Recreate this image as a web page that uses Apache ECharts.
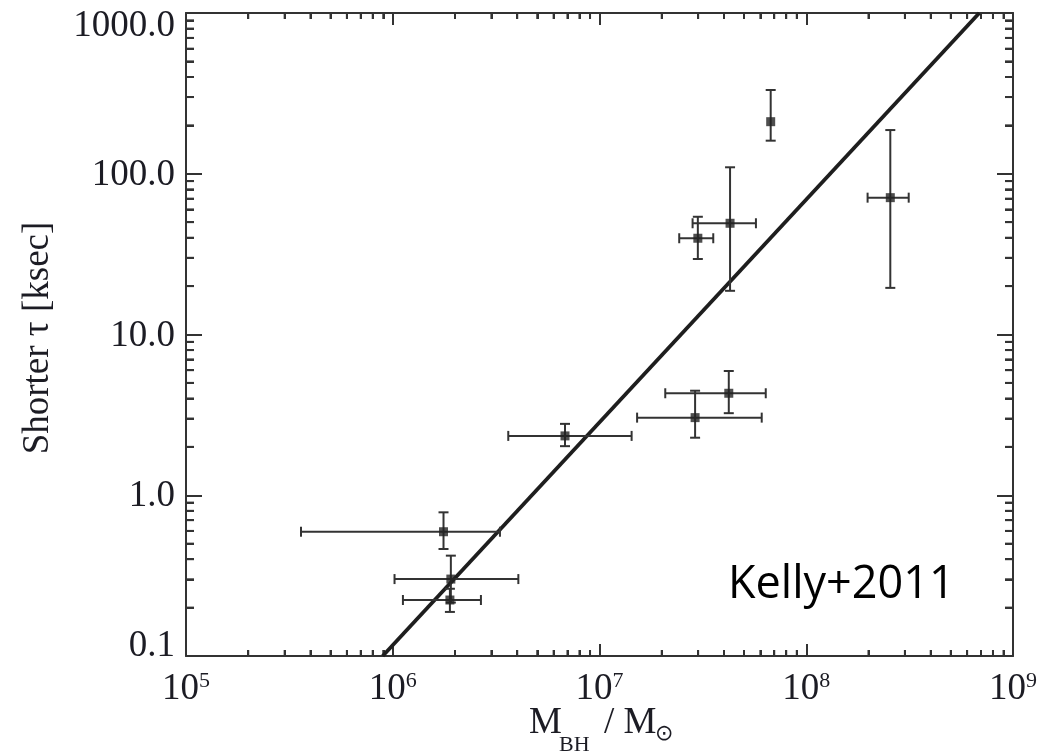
<!DOCTYPE html>
<html>
<head>
<meta charset="utf-8">
<script src="https://cdn.jsdelivr.net/npm/echarts@6/dist/echarts.min.js"></script>
<style>
html,body{margin:0;padding:0;background:#fff;}
#chart{width:1042px;height:752px;}
</style>
</head>
<body>
<div id="chart"></div>
<script>
// ---- data (Kelly+2011) ----
const massBH  = [1.76e6, 1.91e6, 1.89e6, 6.81e6, 2.90e7, 4.22e7, 2.99e7, 4.28e7, 6.73e7, 2.55e8];
const tauShort = [0.593, 0.301, 0.223, 2.34, 3.04, 4.31, 39.7, 49.2, 210.8, 71.0];
const massLo  = [3.6e5, 1.02e6, 1.12e6, 3.62e6, 1.52e7, 2.08e7, 2.43e7, 2.82e7, null, 1.98e8];
const massHi  = [3.30e6, 4.05e6, 2.67e6, 1.43e7, 6.09e7, 6.37e7, 3.55e7, 5.71e7, null, 3.13e8];
const tauLo   = [0.463, 0.215, 0.188, 2.02, 2.28, 3.24, 29.5, 18.7, 160.6, 19.5];
const tauHi   = [0.783, 0.421, 0.262, 2.78, 4.47, 5.93, 54.0, 109.7, 332, 187];
// best-fit relation end points
const fitMass = [8.94e5, 6.87e8];
const fitTau  = [0.1, 1000];
// axis ticks
const xTicks = [1e5, 1e6, 1e7, 1e8, 1e9];
const yTicks = [0.1, 1, 10, 100, 1000];
const yTickLabels = ['0.1', '1.0', '10.0', '100.0', '1000.0'];

const SERIF = '"Liberation Serif", "Times New Roman", serif';
const INK = '#1c1c24';

const xMinor = [], yMinor = [];
for (let e = 5; e < 9; e++) for (let m = 2; m <= 9; m++) xMinor.push(m * Math.pow(10, e));
for (let e = -1; e < 3; e++) for (let m = 2; m <= 9; m++) yMinor.push(m * Math.pow(10, e));

const errData = massBH.map((x, i) => [x, tauShort[i],
  massLo[i] == null ? x : massLo[i], massHi[i] == null ? x : massHi[i], tauLo[i], tauHi[i]]);
const pts = massBH.map((x, i) => [x, tauShort[i]]);
const fitData = fitMass.map((x, i) => [x, fitTau[i]]);

const chart = echarts.init(document.getElementById('chart'));

function xLabel(v) {
  const e = Math.round(Math.log10(v));
  return '{b|10}{s|' + e + '}';
}
function yLabel(v) {
  const idx = yTicks.findIndex(t => Math.abs(Math.log10(t) - Math.log10(v)) < 1e-6);
  const s = idx >= 0 ? yTickLabels[idx] : String(v);
  if (idx === yTicks.length - 1) return '{t|' + s + '}';
  if (idx === 0) return '{bt|' + s + '}';
  return '{n|' + s + '}';
}

function xAxisDef(pos, showLabel) {
  return {
    type: 'log', logBase: 10, min: xTicks[0], max: xTicks[xTicks.length - 1], splitNumber: 4,
    position: pos,
    axisLine: {show: true, lineStyle: {color: '#333', width: 2}},
    axisTick: {show: true, inside: true, length: 12, lineStyle: {color: '#333', width: 2}},
    minorTick: {show: true, splitNumber: 9, length: 6, lineStyle: {color: '#333', width: 2}},
    splitLine: {show: false},
    axisLabel: showLabel ? {
      show: true, margin: 14, formatter: xLabel, color: INK,
      rich: {
        b: {fontFamily: SERIF, fontSize: 37, lineHeight: 38, color: INK},
        s: {fontFamily: SERIF, fontSize: 22, lineHeight: 22, verticalAlign: 'top', color: INK}
      }
    } : {show: false}
  };
}
function yAxisDef(pos, showLabel) {
  return {
    type: 'log', logBase: 10, min: yTicks[0], max: yTicks[yTicks.length - 1], splitNumber: 4,
    position: pos,
    axisLine: {show: true, lineStyle: {color: '#333', width: 2}},
    axisTick: {show: true, inside: true, length: 16, lineStyle: {color: '#333', width: 2}},
    minorTick: {show: true, splitNumber: 9, length: 8, lineStyle: {color: '#333', width: 2}},
    splitLine: {show: false},
    axisLabel: showLabel ? {
      show: true, margin: 11, formatter: yLabel, color: INK,
      rich: {
        n: {fontFamily: SERIF, fontSize: 37, color: INK, padding: [3, 0, 0, 0]},
        t: {fontFamily: SERIF, fontSize: 37, color: INK, padding: [26, 0, 0, 0]},
        bt: {fontFamily: SERIF, fontSize: 37, color: INK, padding: [0, 0, 20, 0]}
      }
    } : {show: false}
  };
}

chart.setOption({
  animation: false,
  grid: {left: 186, top: 13, width: 827, height: 643},
  xAxis: [xAxisDef('bottom', true), xAxisDef('top', false)],
  yAxis: [yAxisDef('left', true), yAxisDef('right', false)],
  series: [
    {
      type: 'line', name: 'fit', data: fitData, symbol: 'none', clip: true,
      lineStyle: {color: '#1e1e1e', width: 3.8}, z: 3
    },
    {
      type: 'custom', name: 'errors', clip: false, z: 4,
      data: errData,
      encode: {x: 0, y: 1},
      renderItem: function (params, api) {
        const x = api.value(0), y = api.value(1);
        const xl = api.value(2), xh = api.value(3), yl = api.value(4), yh = api.value(5);
        const ch = [];
        const cap = 5;
        function seg(x1, y1, x2, y2) {
          ch.push({type: 'line', shape: {x1: x1, y1: y1, x2: x2, y2: y2}, style: {stroke: '#333', lineWidth: 2}});
        }
        if (xl !== xh) {
          const a = api.coord([xl, y]), b = api.coord([xh, y]);
          seg(a[0], a[1], b[0], b[1]);
          seg(a[0], a[1] - cap, a[0], a[1] + cap);
          seg(b[0], b[1] - cap, b[0], b[1] + cap);
        }
        if (yl !== yh) {
          const a = api.coord([x, yl]), b = api.coord([x, yh]);
          seg(a[0], a[1], b[0], b[1]);
          seg(a[0] - cap, a[1], a[0] + cap, a[1]);
          seg(b[0] - cap, b[1], b[0] + cap, b[1]);
        }
        return {type: 'group', children: ch};
      }
    },
    {
      type: 'scatter', name: 'sources', data: pts, symbol: 'rect', symbolSize: 9,
      itemStyle: {color: '#222'}, z: 5
    }
  ]
});

// texts + mirrored minor ticks (positions through the axes' scales)
const g = [
  {type: 'text', x: 38, y: 338, rotation: Math.PI / 2,
    style: {text: 'Shorter τ [ksec]', font: '37px ' + SERIF, fill: INK, align: 'center', verticalAlign: 'middle'}},
  {type: 'text', x: 529, y: 723, style: {text: 'M', font: '37px ' + SERIF, fill: INK, align: 'left', verticalAlign: 'middle'}},
  {type: 'text', x: 559, y: 745, style: {text: 'BH', font: '22px ' + SERIF, fill: INK, align: 'left', verticalAlign: 'middle'}},
  {type: 'text', x: 604, y: 723, style: {text: '/ M', font: '37px ' + SERIF, fill: INK, align: 'left', verticalAlign: 'middle'}},
  {type: 'text', x: 655, y: 734, style: {text: '⊙', font: '22px "DejaVu Sans", sans-serif', fill: INK, align: 'left', verticalAlign: 'middle'}},
  {type: 'text', x: 728, y: 585, style: {text: 'Kelly+2011', font: '45px "Open Sans", sans-serif', fill: '#000', align: 'left', verticalAlign: 'middle'}}
];
const lb = chart.convertToPixel({gridIndex: 0}, [xTicks[0], yTicks[0]]);
const rt = chart.convertToPixel({gridIndex: 0}, [xTicks[xTicks.length - 1], yTicks[yTicks.length - 1]]);
xMinor.forEach(function (v) {
  const px = chart.convertToPixel({xAxisIndex: 0}, v);
  g.push({type: 'line', shape: {x1: px, y1: lb[1], x2: px, y2: lb[1] - 6}, style: {stroke: '#333', lineWidth: 2}});
  g.push({type: 'line', shape: {x1: px, y1: rt[1], x2: px, y2: rt[1] + 6}, style: {stroke: '#333', lineWidth: 2}});
});
yMinor.forEach(function (v) {
  const py = chart.convertToPixel({yAxisIndex: 0}, v);
  g.push({type: 'line', shape: {x1: lb[0], y1: py, x2: lb[0] + 8, y2: py}, style: {stroke: '#333', lineWidth: 2}});
  g.push({type: 'line', shape: {x1: rt[0], y1: py, x2: rt[0] - 8, y2: py}, style: {stroke: '#333', lineWidth: 2}});
});
chart.setOption({graphic: g});
</script>
</body>
</html>
